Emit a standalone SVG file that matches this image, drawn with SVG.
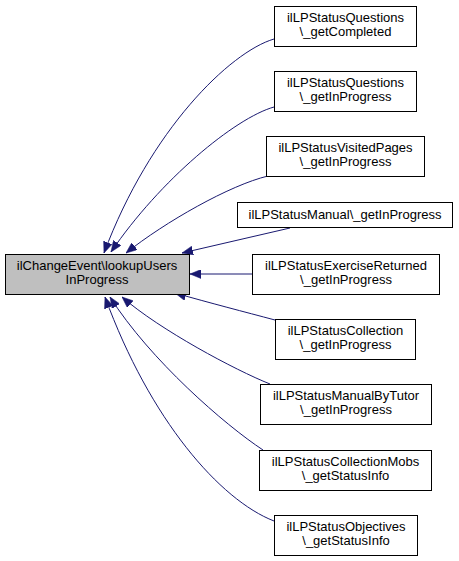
<svg xmlns="http://www.w3.org/2000/svg" width="459" height="561" viewBox="0 0 459 561">
<style>
.n rect{fill:#ffffff;stroke:#000000;stroke-width:1}
.m rect{fill:#bfbfbf;stroke:#000000;stroke-width:1}
text{font-family:"Liberation Sans",Helvetica,Arial,sans-serif;font-size:13px;fill:#000000;text-anchor:middle}
.e path{fill:none;stroke:#191970;stroke-width:1;marker-end:url(#ah)}
</style>
<defs>
<marker id="ah" markerUnits="userSpaceOnUse" viewBox="0 0 11 9" markerWidth="11" markerHeight="9" refX="11" refY="4.5" orient="auto">
<path d="M0,0 L11,4.5 L0,9 Z" fill="#191970" stroke="#191970" stroke-width="0.5"/>
</marker>
</defs>
<rect width="459" height="561" fill="#ffffff"/>
<g id="connectors" class="e">
<path d="M274,39 C230,52 150,130 104,253"/>
<path d="M274,107 C235,118 160,180 111,252"/>
<path d="M268,176 C230,185 165,222 126,253"/>
<path d="M290,228 L182,253"/>
<path d="M252,274 L190,274"/>
<path d="M275,320 C245,312 210,303 175,293"/>
<path d="M270,384 C235,370 160,330 122,297"/>
<path d="M263,450 C225,425 150,360 110,297"/>
<path d="M274,521 C220,500 150,420 105,297"/>
</g>
<g id="main" class="m">
<rect x="5.5" y="254.5" width="184" height="40"/>
<text x="97" y="270">ilChangeEvent\lookupUsers</text>
<text x="97" y="284">InProgress</text>
</g>
<g id="n1" class="n">
<rect x="274.5" y="6.5" width="142" height="40"/>
<text x="345.5" y="22">ilLPStatusQuestions</text>
<text x="345.5" y="36">\_getCompleted</text>
</g>
<g id="n2" class="n">
<rect x="274.5" y="71.5" width="142" height="40"/>
<text x="345.5" y="87">ilLPStatusQuestions</text>
<text x="345.5" y="101">\_getInProgress</text>
</g>
<g id="n3" class="n">
<rect x="266.5" y="136.5" width="158" height="40"/>
<text x="345.5" y="152">ilLPStatusVisitedPages</text>
<text x="345.5" y="166">\_getInProgress</text>
</g>
<g id="n4" class="n">
<rect x="237.5" y="202.5" width="215" height="25"/>
<text x="345" y="219">ilLPStatusManual\_getInProgress</text>
</g>
<g id="n5" class="n">
<rect x="252.5" y="254.5" width="187" height="40"/>
<text x="346" y="270">ilLPStatusExerciseReturned</text>
<text x="346" y="284">\_getInProgress</text>
</g>
<g id="n6" class="n">
<rect x="275.5" y="319.5" width="140" height="40"/>
<text x="345.5" y="335">ilLPStatusCollection</text>
<text x="345.5" y="349">\_getInProgress</text>
</g>
<g id="n7" class="n">
<rect x="260.5" y="384.5" width="171" height="40"/>
<text x="346" y="400">ilLPStatusManualByTutor</text>
<text x="346" y="414">\_getInProgress</text>
</g>
<g id="n8" class="n">
<rect x="259.5" y="450.5" width="172" height="40"/>
<text x="345.5" y="466">ilLPStatusCollectionMobs</text>
<text x="345.5" y="480">\_getStatusInfo</text>
</g>
<g id="n9" class="n">
<rect x="274.5" y="515.5" width="143" height="40"/>
<text x="346" y="531">ilLPStatusObjectives</text>
<text x="346" y="545">\_getStatusInfo</text>
</g>
</svg>
